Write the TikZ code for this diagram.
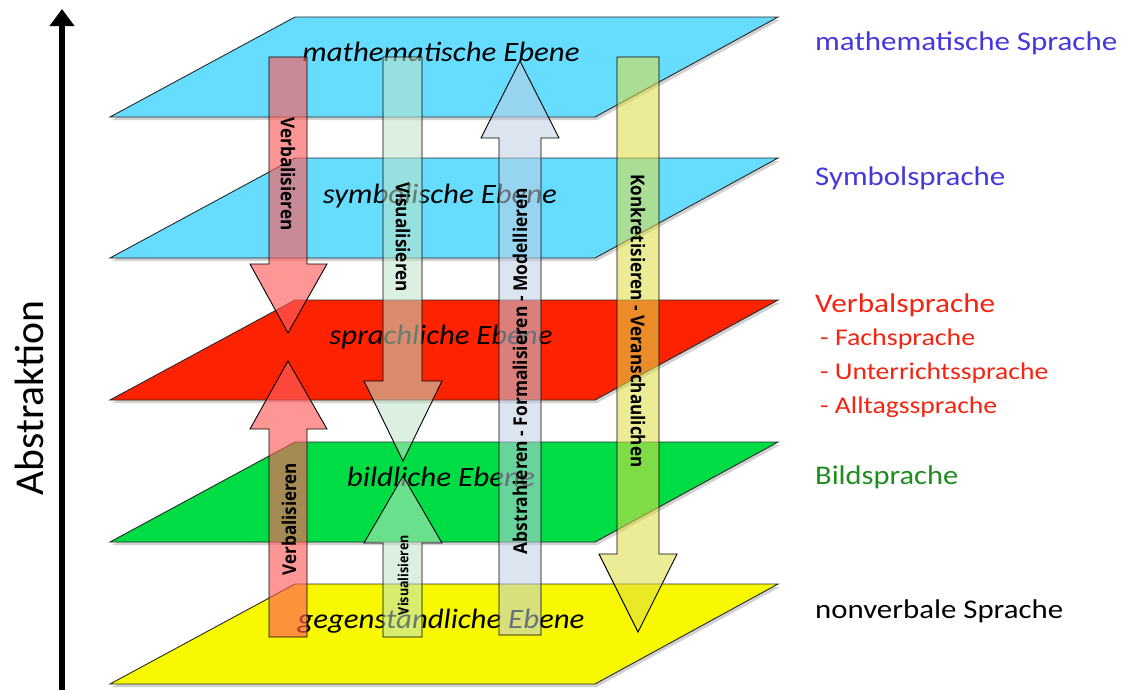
\documentclass[tikz,border=0pt]{standalone}
\usepackage{fontspec}
\setmainfont{Carlito}
\newfontfamily\arrfont{Open Sans}
\usepackage{graphicx}
\usetikzlibrary{arrows.meta}
\definecolor{planecyan}{RGB}{102,221,255}
\definecolor{planered}{RGB}{255,34,0}
\definecolor{planegreen}{RGB}{0,221,68}
\definecolor{planeyellow}{RGB}{248,248,0}
\definecolor{arrred}{RGB}{255,92,92}
\definecolor{arrmint}{RGB}{191,227,200}
\definecolor{arrblue}{RGB}{191,205,227}
\definecolor{arryellow}{RGB}{222,222,72}
\definecolor{sideblue}{RGB}{70,55,220}
\definecolor{sidered}{RGB}{245,35,15}
\definecolor{sidegreen}{RGB}{30,140,30}
\definecolor{edgegray}{RGB}{40,40,40}
\newcommand{\fitw}[2]{\resizebox{#1}{\height}{#2}}
\newcommand{\drawplane}[2]{%
  \fill[planeshadow] (297,{#1+3}) -- (780,{#1+3}) -- (597,{#1+103}) -- (112,{#1+103}) -- cycle;
  \filldraw[planeedge, fill=#2] (295,#1) -- (778,#1) -- (595,{#1+100}) -- (110,{#1+100}) -- cycle;}
\begin{document}
\begin{tikzpicture}[x=1pt,y=-1pt,
  planeedge/.style={draw=edgegray, line width=0.9pt, line join=miter},
  planeshadow/.style={fill=black, fill opacity=0.18},
  blockarrow/.style={draw=black, line width=0.9pt, line join=miter},
  planelabel/.style={anchor=base, inner sep=0pt, font=\itshape\fontsize{28}{28}\selectfont},
  sidelabel/.style={anchor=base west, inner sep=0pt, font=\fontsize{27}{27}\selectfont},
  sublabel/.style={anchor=base west, inner sep=0pt, font=\fontsize{24}{24}\selectfont},
  arrlabel/.style={inner sep=0pt, font=\arrfont\bfseries\fontsize{19}{19}\selectfont},
]
\useasboundingbox (0,0) rectangle (1127,689);

% axis
\coordinate (axb) at (62,695);
\coordinate (axt) at (62,9);
\draw[line width=6pt, -{Triangle[width=24pt,length=17pt]}] (axb) -- (axt);
\node[rotate=90, inner sep=0pt, font=\fontsize{41}{41}\selectfont] (abs) at (29,398) {\fitw{195pt}{Abstraktion}};

% planes
\drawplane{17}{planecyan}
\drawplane{158}{planecyan}
\drawplane{300}{planered}
\drawplane{442}{planegreen}
\drawplane{584}{planeyellow}

\node[planelabel] (lmath) at (441,61) {\fitw{277pt}{mathematische Ebene}};
\node[planelabel] (lsymb) at (440,203) {\fitw{234pt}{symbolische Ebene}};
\node[planelabel] (lsprach) at (441,344) {\fitw{223pt}{sprachliche Ebene}};
\node[planelabel] (lbild) at (441,486) {\fitw{188pt}{bildliche Ebene}};
\node[planelabel] (lgegen) at (441,628) {\fitw{287pt}{gegenständliche Ebene}};

% block arrows
\filldraw[blockarrow, fill=arrred, fill opacity=0.645] (269,57) -- (307,57) -- (307,264) -- (327,264) -- (288,333) -- (250,264) -- (269,264) -- cycle;
\filldraw[blockarrow, fill=arrred, fill opacity=0.645] (269,637) -- (307,637) -- (307,429) -- (327,429) -- (288,361) -- (250,429) -- (269,429) -- cycle;
\filldraw[blockarrow, fill=arrmint, fill opacity=0.55] (383,57) -- (422,57) -- (422,381) -- (442,381) -- (403,461) -- (364,381) -- (383,381) -- cycle;
\filldraw[blockarrow, fill=arrmint, fill opacity=0.55] (383,637) -- (422,637) -- (422,543) -- (442,543) -- (403,476) -- (364,543) -- (383,543) -- cycle;
\filldraw[blockarrow, fill=arrblue, fill opacity=0.55] (499,635) -- (541,635) -- (541,138) -- (559,138) -- (520,61) -- (481,138) -- (499,138) -- cycle;
\filldraw[blockarrow, fill=arryellow, fill opacity=0.57] (617,57) -- (659,57) -- (659,554) -- (677,554) -- (638,632) -- (599,554) -- (617,554) -- cycle;

% arrow labels
\node[arrlabel, rotate=-90] (tverb1) at (288,174) {\fitw{113pt}{Verbalisieren}};
\node[arrlabel, rotate=90] (tverb2) at (289,519) {\fitw{112pt}{Verbalisieren}};
\node[arrlabel, rotate=-90] (tvis1) at (403,237) {\fitw{110pt}{Visualisieren}};
\node[arrlabel, rotate=90, font=\arrfont\bfseries\fontsize{14}{14}\selectfont] (tvis2) at (403,575) {\fitw{80pt}{Visualisieren}};
\node[arrlabel, rotate=90] (tabs) at (520,371) {\fitw{366pt}{Abstrahieren - Formalisieren - Modellieren}};
\node[arrlabel, rotate=-90] (tkon) at (638,321) {\fitw{293pt}{Konkretisieren - Veranschaulichen}};

% side labels
\node[sidelabel, text=sideblue] (rmath) at (815,50) {\fitw{302pt}{mathematische Sprache}};
\node[sidelabel, text=sideblue] (rsymb) at (815,185) {\fitw{190pt}{Symbolsprache}};
\node[sidelabel, text=sidered] (rverb) at (815,312) {\fitw{180pt}{Verbalsprache}};
\node[sublabel, text=sidered] (rfach) at (820,345) {\fitw{155pt}{- Fachsprache}};
\node[sublabel, text=sidered] (runt) at (820,379) {\fitw{228pt}{- Unterrichtssprache}};
\node[sublabel, text=sidered] (ralt) at (820,413) {\fitw{177pt}{- Alltagssprache}};
\node[sidelabel, text=sidegreen] (rbild) at (815,484) {\fitw{143pt}{Bildsprache}};
\node[sidelabel, text=black] (rnon) at (815,618) {\fitw{248pt}{nonverbale Sprache}};
\end{tikzpicture}
\end{document}
